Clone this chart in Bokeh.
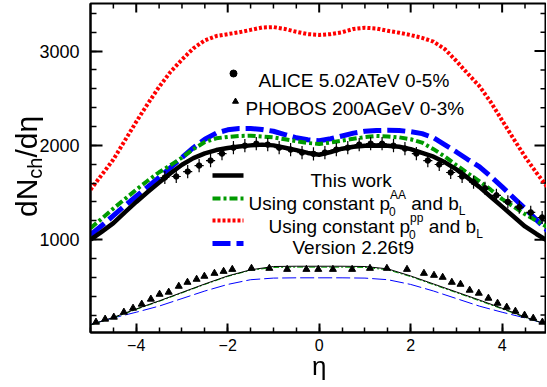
import math
from bokeh.plotting import figure
from bokeh.layouts import row
from bokeh.models import Range1d, SingleIntervalTicker, Label, CustomJSTickFormatter, Div
from bokeh.embed import file_html
from bokeh.resources import INLINE

# ---------------- data ----------------
eta_grid = [-5.0, -4.75, -4.5, -4.25, -4.0, -3.75, -3.5, -3.25, -3.0, -2.75, -2.5,
            -2.25, -2.0, -1.75, -1.5, -1.25, -1.0, -0.75, -0.5, -0.25, 0.0,
            0.25, 0.5, 0.75, 1.0, 1.25, 1.5, 1.75, 2.0, 2.25, 2.5,
            2.75, 3.0, 3.25, 3.5, 3.75, 4.0, 4.25, 4.5, 4.75, 5.0]

this_work = [1000, 1085, 1175, 1290, 1400, 1505, 1605, 1705, 1795, 1865, 1915,
             1950, 1972, 1988, 2000, 2008, 2000, 1975, 1950, 1920, 1900,
             1930, 1965, 1985, 1995, 1998, 1995, 1985, 1960, 1920, 1880,
             1820, 1745, 1655, 1560, 1455, 1350, 1245, 1140, 1060, 985]
const_pAA = [1120, 1225, 1330, 1430, 1530, 1625, 1715, 1790, 1870, 1960, 2035,
             2075, 2090, 2100, 2103, 2095, 2085, 2065, 2045, 2025, 2015,
             2030, 2050, 2070, 2088, 2100, 2095, 2085, 2065, 2030, 1960,
             1880, 1790, 1705, 1620, 1530, 1430, 1350, 1270, 1200, 1130]
const_ppp = [1530, 1690, 1850, 2050, 2250, 2440, 2620, 2780, 2910, 3030, 3115,
             3160, 3180, 3200, 3225, 3250, 3255, 3235, 3205, 3180, 3172,
             3180, 3200, 3235, 3248, 3240, 3215, 3195, 3170, 3140, 3100,
             3020, 2895, 2760, 2630, 2460, 2265, 2070, 1880, 1710, 1550]
version_226 = [1050, 1150, 1255, 1360, 1460, 1560, 1660, 1765, 1870, 1975, 2065,
               2130, 2165, 2180, 2180, 2168, 2150, 2115, 2080, 2060, 2050,
               2070, 2100, 2130, 2150, 2158, 2160, 2158, 2145, 2125, 2080,
               2005, 1930, 1850, 1775, 1670, 1560, 1445, 1330, 1210, 1090]

# 200 GeV (thin curves)
eta_grid_200 = [-5.0, -4.5, -4.0, -3.5, -3.0, -2.5, -2.0, -1.5, -1.0, -0.5, 0.0,
                0.5, 1.0, 1.5, 2.0, 2.5, 3.0, 3.5, 4.0, 4.5, 5.0]
this_work_200 = [95, 175, 265, 350, 440, 530, 615, 680, 715, 718, 718,
                 718, 715, 690, 615, 530, 445, 360, 272, 180, 95]
const_pAA_200 = [95, 170, 260, 345, 435, 525, 610, 675, 705, 708, 708,
                 708, 705, 680, 608, 522, 438, 352, 265, 175, 95]
version_226_200 = [100, 170, 230, 295, 375, 455, 525, 575, 592, 595, 595,
                   595, 592, 575, 525, 455, 375, 295, 230, 170, 100]

alice_eta = [-3.375, -3.125, -2.875, -2.625, -2.375, -2.125, -1.875, -1.625, -1.375,
             -1.125, -0.875, -0.625, -0.375, -0.125, 0.125, 0.375, 0.625, 0.875,
             1.125, 1.375, 1.625, 1.875, 2.125, 2.375, 2.625, 2.875, 3.125, 3.375,
             3.625, 3.875, 4.125, 4.375, 4.625, 4.875]
alice_val = [1659, 1670, 1722, 1786, 1839, 1913, 1976, 1997, 2018,
             2008, 1976, 1955, 1924, 1910, 1924, 1955, 1976, 2008,
             2018, 2018, 1997, 1966, 1913, 1839, 1797, 1712, 1670, 1610,
             1545, 1470, 1400, 1345, 1289, 1235]
alice_err = [70] * len(alice_val)
alice_xerr = 0.1

phobos_eta = [-4.88, -4.68, -4.49, -4.27, -4.07, -3.88, -3.68, -3.49, -3.29, -3.07,
              -2.88, -2.68, -2.51, -2.29, -2.09, -1.9, -1.48, -1.09, -0.7, -0.28,
              -0.02, 0.3, 0.72, 1.11, 1.48, 1.92, 2.29, 2.51, 2.7, 2.9,
              3.09, 3.29, 3.49, 3.7, 3.9, 4.1, 4.29, 4.49, 4.68, 4.88]
phobos_val = [125, 157, 178, 231, 273, 316, 369, 421, 443, 506,
              548, 580, 612, 643, 664, 685, 696, 696, 685, 685,
              685, 685, 685, 696, 696, 685, 643, 622, 601, 548,
              527, 464, 432, 379, 326, 284, 241, 199, 167, 125]

# tick positions (mirrored on the top and right edges)
x_major_ticks = [-4, -2, 0, 2, 4]
x_minor_ticks = [-4.5, -3.5, -3, -2.5, -1.5, -1, -0.5, 0.5, 1, 1.5, 2.5, 3, 3.5, 4.5]
y_major_ticks = [1000, 2000, 3000]
y_minor_ticks = [200, 400, 600, 800, 1200, 1400, 1600, 1800, 2200, 2400, 2600, 2800,
                 3200, 3400]

# ---------------- layout ----------------
W, H = 546, 387
FL, FR, FT, FB = 90, 546, 3, 332
XMIN, XMAX = -5.0, 4.97
YMIN, YMAX = 15, 3505
FONT = "Liberation Sans"

def X(px):
    return XMIN + (px - FL) / (FR - FL) * (XMAX - XMIN)

def Y(py):
    return YMIN + (FB - py) / (FB - FT) * (YMAX - YMIN)

AW = {'U': 722, 's': 500, 'i': 222, 'n': 556, 'g': 556, ' ': 278, 'c': 500, 'o': 556,
      't': 278, 'a': 556, 'p': 556, 'd': 556, 'b': 556, 'A': 667, 'L': 556, '0': 556}

def tw(s, size):
    return sum(AW.get(ch, 556) for ch in s) * size / 1000.0

p = figure(width=W, height=H, x_range=Range1d(XMIN, XMAX), y_range=Range1d(YMIN, YMAX),
           output_backend="svg", toolbar_location=None,
           min_border_left=FL, min_border_right=max(W - FR, 0), min_border_top=FT,
           min_border_bottom=H - FB)
p.xgrid.visible = False
p.ygrid.visible = False
p.outline_line_color = "black"
p.outline_line_width = 2
p.background_fill_color = "white"
p.border_fill_color = "white"

fmt = CustomJSTickFormatter(code="return (tick < 0 ? '\u2212' : '') + Math.abs(tick).toFixed(0);")

def style_axis(ax, ticker, maj, mnr, standoff, size):
    ax.ticker = ticker
    ax.axis_line_width = 2
    ax.major_tick_line_width = 2
    ax.minor_tick_line_width = 1.5
    ax.major_tick_in = maj
    ax.major_tick_out = 0
    ax.minor_tick_in = mnr
    ax.minor_tick_out = 0
    ax.axis_label = None
    ax.major_label_standoff = standoff
    ax.major_label_text_font = FONT
    ax.major_label_text_font_size = size
    ax.major_label_text_color = "black"
    ax.formatter = fmt

style_axis(p.xaxis[0], SingleIntervalTicker(interval=2, num_minor_ticks=4), 9, 5, 6, "16px")
style_axis(p.yaxis[0], SingleIntervalTicker(interval=1000, num_minor_ticks=5), 12, 6, 11, "18px")

# mirrored ticks on top and right edges
p.ray(x=x_major_ticks, y=YMAX, length=9, length_units="screen", angle=-math.pi / 2,
      line_color="black", line_width=2)
p.ray(x=x_minor_ticks, y=YMAX, length=5, length_units="screen", angle=-math.pi / 2,
      line_color="black", line_width=1.5)
p.ray(x=XMAX, y=y_major_ticks, length=12, length_units="screen", angle=math.pi,
      line_color="black", line_width=2)
p.ray(x=XMAX, y=y_minor_ticks, length=6, length_units="screen", angle=math.pi,
      line_color="black", line_width=1.5)

GREEN = "#009a00"
p.line(eta_grid, const_ppp, line_color="red", line_width=4, line_dash="3 2")
p.line(eta_grid, version_226, line_color="blue", line_width=5, line_dash="18 6")
p.line(eta_grid, const_pAA, line_color=GREEN, line_width=4, line_dash="8 3 3 3")
p.line(eta_grid, this_work, line_color="black", line_width=4.5)

p.line(eta_grid_200, version_226_200, line_color="blue", line_width=1, line_dash="14 4")
p.line(eta_grid_200, const_pAA_200, line_color=GREEN, line_width=1, line_dash="6 2 2 2")
p.line(eta_grid_200, this_work_200, line_color="black", line_width=1)

alice_lo = [v - e for v, e in zip(alice_val, alice_err)]
alice_hi = [v + e for v, e in zip(alice_val, alice_err)]
p.segment(x0=alice_eta, y0=alice_lo, x1=alice_eta, y1=alice_hi, line_color="black", line_width=1.2)
p.segment(x0=[e - alice_xerr for e in alice_eta], y0=alice_val,
          x1=[e + alice_xerr for e in alice_eta], y1=alice_val, line_color="black", line_width=1.2)
p.scatter(alice_eta, alice_val, marker="circle", size=5.5, color="black")
p.scatter(phobos_eta, phobos_val, marker="triangle", size=7, color="black")

def lab(px, py, text, size, **kw):
    p.add_layout(Label(x=X(px), y=Y(py), text=text, text_font=FONT, text_font_size=f"{size}px",
                       text_color="black", text_baseline=kw.pop("baseline", "alphabetic"),
                       text_align=kw.pop("align", "left"), **kw))

LS = 19
SS = 12
p.scatter([X(233)], [Y(73)], marker="circle", size=7, color="black")
lab(258, 80, "ALICE 5.02ATeV 0-5%", LS)
p.scatter([X(235)], [Y(101)], marker="triangle", size=6, color="black")
lab(245, 108, "PHOBOS 200AGeV 0-3%", LS)

p.line([X(212), X(243)], [Y(175), Y(175)], line_color="black", line_width=4.5)
p.line([X(212), X(243)], [Y(198), Y(198)], line_color=GREEN, line_width=4, line_dash="8 3 3 3")
p.line([X(212), X(243)], [Y(220), Y(220)], line_color="red", line_width=4, line_dash="3 2")
p.line([X(212), X(243)], [Y(243), Y(243)], line_color="blue", line_width=5, line_dash="18 6")

lab(310, 180, "This work", LS)

def composite(x0, base, sup):
    main = "Using constant p"
    lab(x0, base, main, LS)
    xs = x0 + tw(main, LS)
    lab(xs - 1, base + 8, "0", SS)
    lab(xs, base - 9, sup, SS)
    xa = xs + max(tw("0", SS), tw(sup, SS)) + tw(" ", LS)
    rest = "and b"
    lab(xa, base, rest, LS)
    lab(xa + tw(rest, LS), base + 7, "L", SS)

composite(248, 203, "AA")
composite(268, 226, "pp")
lab(292, 247, "Version 2.26t9", LS)

ytitle = ("<span style=\"position:fixed; left:12px; top:217px; transform-origin:0 0; "
          "transform:rotate(-90deg); font-family:'Liberation Sans'; font-size:30px; "
          "line-height:30px; white-space:nowrap; color:black;\">dN"
          "<span style=\"font-size:20px; position:relative; top:5px;\">ch</span>/d\u03b7</span>")
xtitle = ("<span style=\"position:fixed; left:312px; top:353px; font-family:'Liberation Sans'; "
          "font-size:26px; line-height:26px; white-space:nowrap; color:black;\">\u03b7</span>")
titles = Div(text=ytitle + xtitle, width=1, height=H, margin=0)

layout = row(p, titles, spacing=0)
open("out.html", "w").write(file_html(layout, INLINE))
